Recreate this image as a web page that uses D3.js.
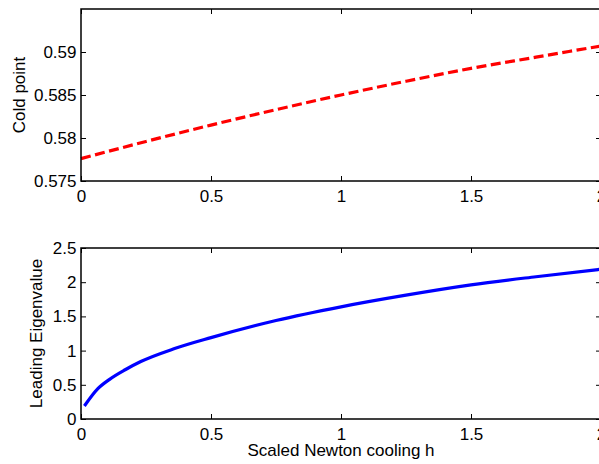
<!DOCTYPE html>
<html>
<head>
<meta charset="utf-8">
<script src="https://cdn.jsdelivr.net/npm/d3@7"></script>
<style>
  body { margin: 0; background: #fff; }
  svg { display: block; font-family: "Liberation Sans", Arial, Helvetica, sans-serif; }
  .tick text { font-size: 17px; fill: #000; }
  .tick line { stroke: #000; }
  .lbl { font-size: 17px; fill: #000; }
</style>
</head>
<body>
<svg width="599" height="464"></svg>
<script>
// data
const hCold = [0, 0.25, 0.5, 0.75, 1, 1.25, 1.5, 1.75, 2]
const coldPoint = [0.5776, 0.5796, 0.5815, 0.5833, 0.5850, 0.5866, 0.5881, 0.5894, 0.5907]

const hEig = [0.013, 0.064, 0.11, 0.17, 0.23, 0.36, 0.5, 0.75, 1.0, 1.25, 1.5, 1.75, 2.0]
const leadEig = [0.19, 0.44, 0.58, 0.72, 0.84, 1.03, 1.19, 1.44, 1.64, 1.81, 1.96, 2.08, 2.19]

const xTicks = [0, 0.5, 1, 1.5, 2]
const yTicksTop = [0.575, 0.58, 0.585, 0.59]
const yTicksBottom = [0, 0.5, 1, 1.5, 2, 2.5]

const svg = d3.select('svg')
const left = 81, right = 601
const fmt = d3.format('~g')

const xScale = d3.scaleLinear().domain([0, 2]).range([left, right])

function panel(top, bottom, yDomain, yTicks, xs, ys, color, dash, label, labelX) {
  const yScale = d3.scaleLinear().domain(yDomain).range([bottom, top])
  const g = svg.append('g')

  // line first so the box sits on top
  const pts = xs.map((x, i) => [x, ys[i]])
  g.append('path')
    .datum(pts)
    .attr('fill', 'none')
    .attr('stroke', color)
    .attr('stroke-width', 3.2)
    .attr('stroke-dasharray', dash)
    .attr('d', d3.line().curve(d3.curveMonotoneX).x(d => xScale(d[0])).y(d => yScale(d[1])))

  // ticks pointing inward on all four sides
  g.append('g').attr('transform', 'translate(0,' + bottom + ')')
    .call(d3.axisBottom(xScale).tickValues(xTicks).tickFormat(fmt).tickSizeInner(-5).tickSizeOuter(0).tickPadding(8.5))
  g.append('g').attr('transform', 'translate(0,' + top + ')')
    .call(d3.axisTop(xScale).tickValues(xTicks).tickFormat('').tickSizeInner(-5).tickSizeOuter(0))
  g.append('g').attr('transform', 'translate(' + left + ',0)')
    .call(d3.axisLeft(yScale).tickValues(yTicks).tickFormat(fmt).tickSizeInner(-5).tickSizeOuter(0).tickPadding(4.5))
  g.append('g').attr('transform', 'translate(' + right + ',0)')
    .call(d3.axisRight(yScale).tickValues(yTicks).tickFormat('').tickSizeInner(-5).tickSizeOuter(0))
  g.selectAll('.domain').remove()

  g.append('rect')
    .attr('x', left).attr('y', top)
    .attr('width', right - left).attr('height', bottom - top)
    .attr('fill', 'none').attr('stroke', '#000').attr('stroke-width', 1.5)

  g.append('text')
    .attr('class', 'lbl')
    .attr('transform', 'translate(' + labelX + ',' + ((top + bottom) / 2) + ') rotate(-90)')
    .attr('text-anchor', 'middle')
    .text(label)

  return yScale
}

panel(9, 181, [0.575, 0.595], yTicksTop, hCold, coldPoint, '#ff0000', '10,4.5', 'Cold point', 25)
panel(248, 419, [0, 2.5], yTicksBottom, hEig, leadEig, '#0000ff', null, 'Leading Eigenvalue', 42)

svg.append('text')
  .attr('class', 'lbl')
  .attr('x', (left + right) / 2)
  .attr('y', 456)
  .attr('text-anchor', 'middle')
  .text('Scaled Newton cooling h')
</script>
</body>
</html>
